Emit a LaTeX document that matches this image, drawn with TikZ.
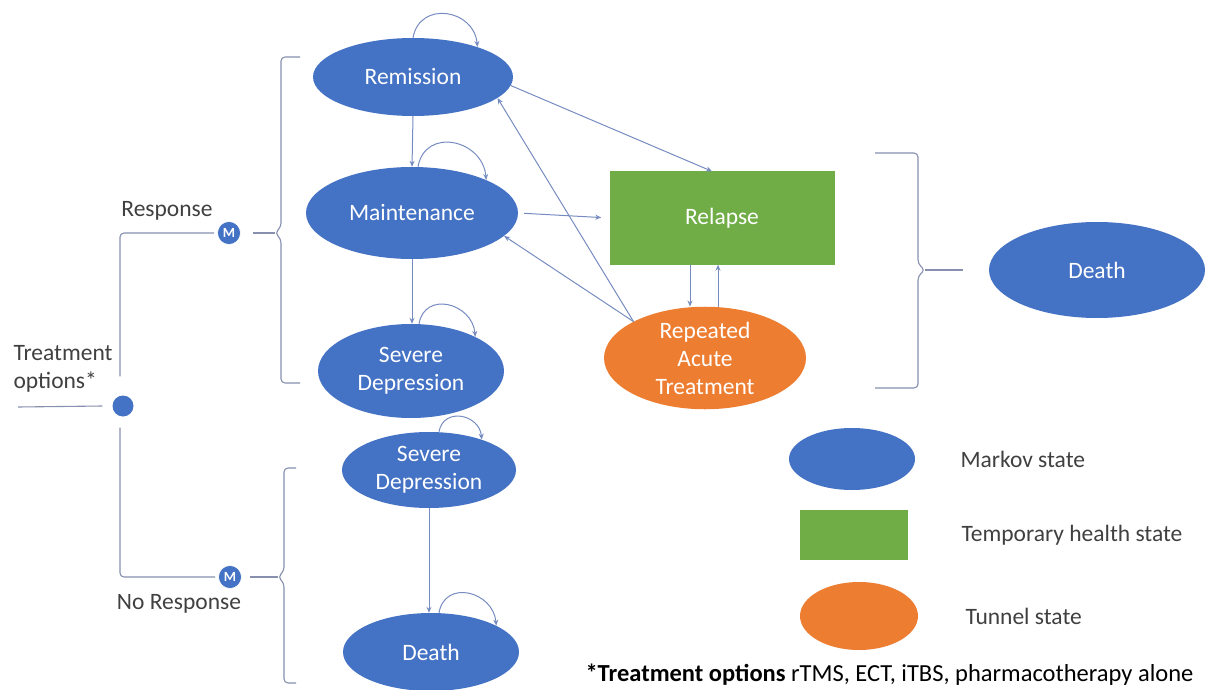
\documentclass[tikz,border=0pt]{standalone}
\usepackage{fontspec}
\setmainfont{Carlito}
\usetikzlibrary{shapes.geometric, arrows.meta, positioning}
\definecolor{mblue}{RGB}{68,114,196}
\definecolor{rgreen}{RGB}{112,173,71}
\definecolor{torange}{RGB}{237,125,49}
\definecolor{arrowc}{RGB}{118,140,192}
\definecolor{bracec}{RGB}{135,145,175}
\definecolor{txt}{RGB}{64,64,64}
\tikzset{
    >={Stealth[length=6pt,width=5pt]},
    x=1pt, y=1pt,
    every node/.style={font=\fontsize{23.5}{28}\selectfont},
    markov/.style={ellipse, fill=mblue, text=white, inner sep=0pt, align=center},
    tunnel/.style={ellipse, fill=torange, text=white, inner sep=0pt, align=center},
    temp/.style={rectangle, fill=rgreen, text=white, inner sep=0pt},
    trans/.style={->, draw=arrowc, line width=1pt},
    selfloop/.style={->, draw=arrowc, line width=1pt, out=80, in=95, looseness=1.5},
    brace/.style={draw=bracec, line width=1.1pt, rounded corners=4pt},
    mnode/.style={circle, fill=mblue, draw=white, line width=0.6pt, inner sep=0pt, minimum size=23pt,
        text=white, font=\fontsize{14}{14}\selectfont\bfseries},
    lbl/.style={text=txt},
}

\begin{document}
\begin{tikzpicture}
\useasboundingbox (0,0) rectangle (1205,-690);

\node[markov, minimum width=200pt, minimum height=78pt] (rem) at (413,-77) {Remission};
\node[markov, minimum width=212pt, minimum height=92pt] (maint) at (412,-213) {Maintenance};
\node[markov, minimum width=186pt, minimum height=94pt] (sevR) at (411,-371) {Severe\\Depression};
\node[temp, minimum width=225pt, minimum height=93pt] (relapse) at (722,-218) {Relapse};
\node[tunnel, minimum width=202pt, minimum height=96pt] (rat) at (705,-358) {Repeated\\Acute\\Treatment};
\node[markov, minimum width=216pt, minimum height=96pt] (deathR) at (1097,-270) {Death};
\node[markov, minimum width=174pt, minimum height=76pt] (sevN) at (429,-470) {Severe\\Depression};
\node[markov, minimum width=176pt, minimum height=78pt] (deathN) at (431,-652) {Death};

\node[markov, minimum width=126pt, minimum height=62pt] (legM) at (852,-459) {};
\node[temp, minimum width=108pt, minimum height=50pt] (legT) at (854,-535) {};
\node[tunnel, minimum width=118pt, minimum height=68pt] (legU) at (859,-616) {};
\node[lbl, anchor=west] (legMt) at (957,-459) {Markov state};
\node[lbl, anchor=west] (legTt) at (958,-535) {Temporary health state};
\node[lbl, anchor=west] (legUt) at (962,-616) {Tunnel state};
\node[text=black, anchor=west, font=\fontsize{24.5}{28}\selectfont] (note) at (582,-675)
    {\textbf{*Treatment options} rTMS, ECT, iTBS, pharmacotherapy alone};

\node[circle, fill=mblue, inner sep=0pt, minimum size=21pt] (dec) at (123,-406) {};
\node[mnode] (mR) at (229,-233) {M};
\node[mnode] (mN) at (230,-577) {M};
\node[lbl] (resp) at (167,-211) {Response};
\node[lbl] (noresp) at (179,-604) {No Response};
\node[lbl, anchor=west, align=left] (topt) at (10,-369) {Treatment\\options*};
\coordinate (tin) at (18,-407);

\draw[brace] (tin) -- ([xshift=-10pt]dec.west);
\draw[brace, shorten <=19pt, shorten >=3pt] ([xshift=-3pt]dec.north) |- (mR.west);
\draw[brace, shorten <=11pt, shorten >=3pt] ([xshift=-3pt]dec.south) |- (mN.west);

\coordinate (bT) at (275,-233);
\coordinate (bN) at (278,-577);
\coordinate (bR) at (925,-270);
\draw[brace] (300,-57) -- (281,-57) -- (281,-227) -- (bT) -- (281,-239) -- (281,-383) -- (300,-383);
\draw[brace] (296,-468) -- (284,-468) -- (284,-571) -- (bN) -- (284,-583) -- (284,-683) -- (296,-683);
\draw[brace] (875,-153) -- (918,-153) -- (918,-264) -- (bR) -- (918,-276) -- (918,-388) -- (875,-388);
\draw[brace, shorten <=12pt] (mR.east) -- (bT);
\draw[brace, shorten <=8pt] (mN.east) -- (bN);
\draw[brace, shorten >=26pt] (bR) -- (deathR.west);

\draw[trans] (rem.south) -- (maint.north);
\draw[trans] (maint.south) -- (maint.south |- sevR.north);
\draw[trans] (sevN.south) -- (sevN.south |- deathN.north);
\draw[trans] (rem.-5) -- ([xshift=-10pt]relapse.north);
\draw[trans, shorten <=6pt, shorten >=8pt] (maint.east) -- (relapse.west);
\draw[trans] (rat.153) -- (rem.-14);
\draw[trans] (rat.153) -- (maint.-14);
\draw[trans] ([xshift=-32pt]relapse.south) -- ([xshift=-15pt]rat.north);
\draw[trans] ([xshift=13pt]rat.north) -- ([xshift=-4pt]relapse.south);

\draw[selfloop] (rem.north) to (rem.25);
\draw[selfloop] ([xshift=6pt]maint.north) to (maint.24);
\draw[selfloop] ([xshift=8pt]sevR.north) to (sevR.28);
\draw[selfloop] ([xshift=10pt]sevN.north) to (sevN.30);
\draw[selfloop] ([xshift=8pt]deathN.north) to (deathN.22);

\end{tikzpicture}
\end{document}
